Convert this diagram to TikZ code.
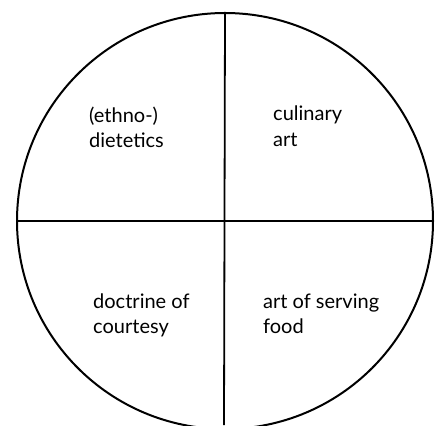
\documentclass[tikz,border=0pt]{standalone}
\usepackage{fontspec}
\setmainfont{Lato}
\begin{document}
\begin{tikzpicture}[x=1pt,y=-1pt,
  ring/.style={circle,draw,line width=2pt,inner sep=0pt,minimum size=416pt},
  divider/.style={line width=1.8pt},
  label/.style={anchor=base west,inner sep=0pt,align=left,font=\fontsize{20}{25}\selectfont}]
\useasboundingbox (0,0) rectangle (441,425);
\begin{scope}
\clip (0,0) rectangle (441,425);
\node[ring] (c) at (225,221) {};
\coordinate (vb) at (224,425);
\draw[divider] (c.north) -- (vb);
\draw[divider,line width=1.5pt] (c.west) -- (c.east);
\end{scope}
\node[label] (q1) at (89,147) {(ethno-)\\dietetics};
\node[label] (q2) at (273,146) {culinary\\art};
\node[label] (q3) at (93,333) {doctrine of\\courtesy};
\node[label] (q4) at (263,333) {art of serving\\food};
\end{tikzpicture}
\end{document}
